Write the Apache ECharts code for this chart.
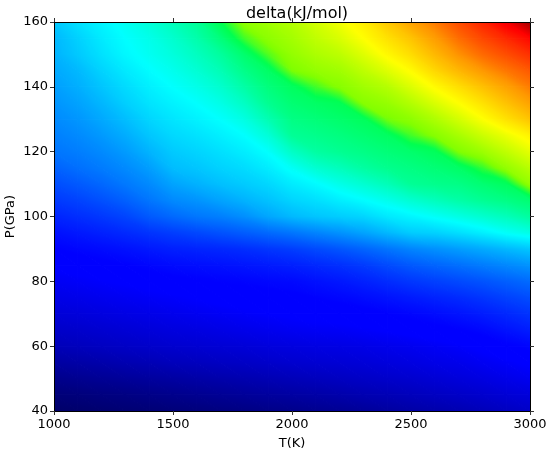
<!DOCTYPE html>
<html>
<head>
<meta charset="utf-8">
<script src="https://cdn.jsdelivr.net/npm/echarts@6/dist/echarts.min.js"></script>
<style>
html, body { margin: 0; padding: 0; background: #fff; }
#main { width: 550px; height: 451px; }
</style>
</head>
<body>
<div id="main"></div>
<script>
// sample grid: temperature columns and pressure rows
var temps = [1000, 1100, 1200, 1300, 1400, 1500, 1600, 1700, 1800, 1900, 2000,
             2100, 2200, 2300, 2400, 2500, 2600, 2700, 2800, 2900, 3000];
var pressures = [40, 45, 50, 55, 60, 65, 70, 75, 80, 85, 90, 95, 100,
                 105, 110, 115, 120, 125, 130, 135, 140, 145, 150, 155, 160];
var xTicks = [1000, 1500, 2000, 2500, 3000];
var yTicks = [40, 60, 80, 100, 120, 140, 160];

// delta, one row per pressure (40 -> 160)
var delta = [
  [1, 1.2, 1.4, 1.6, 1.8, 2, 2.2, 2.5, 2.7, 3, 3.2, 3.5, 3.8, 4.2, 4.6, 5, 5.4, 5.8, 6.3, 6.8, 7.3],
  [2, 2.2, 2.5, 2.7, 3, 3.3, 3.6, 3.9, 4.2, 4.5, 4.8, 5.1, 5.4, 5.8, 6.1, 6.5, 6.9, 7.3, 7.7, 8.2, 8.6],
  [3.3, 3.6, 3.9, 4.2, 4.5, 4.8, 5.1, 5.4, 5.7, 6, 6.3, 6.6, 6.9, 7.2, 7.5, 7.8, 8.2, 8.6, 9, 9.5, 10],
  [4.8, 5.1, 5.4, 5.8, 6.1, 6.5, 6.7, 7, 7.2, 7.5, 7.8, 8, 8.2, 8.4, 8.7, 9, 9.4, 9.7, 10.2, 10.7, 11.3],
  [6.3, 6.6, 6.9, 7.2, 7.5, 7.8, 8, 8.2, 8.4, 8.7, 8.9, 9.1, 9.2, 9.4, 9.7, 10, 10.4, 10.8, 11.4, 12.2, 13],
  [7.4, 7.6, 7.9, 8.2, 8.5, 8.8, 9, 9.3, 9.6, 9.9, 10.2, 10.4, 10.5, 10.8, 11.1, 11.5, 11.9, 12.4, 13.1, 14.2, 15.3],
  [8.4, 8.6, 8.9, 9.2, 9.5, 9.8, 10.1, 10.4, 10.7, 11, 11.3, 11.5, 11.7, 12, 12.5, 13, 13.6, 14.3, 15.2, 16.3, 17.5],
  [9.4, 9.6, 9.9, 10.2, 10.5, 10.8, 11.1, 11.4, 11.6, 11.9, 12.2, 12.6, 13, 13.6, 14.3, 15, 15.8, 16.6, 17.6, 18.8, 20],
  [10.3, 10.6, 10.9, 11.2, 11.6, 12, 12.3, 12.6, 12.8, 13.1, 13.3, 14, 14.7, 15.6, 16.7, 17.8, 18.7, 19.6, 20.6, 21.8, 23],
  [11.3, 11.7, 12, 12.5, 13, 13.5, 13.8, 14.1, 14.5, 15, 15.5, 16.3, 17.1, 18.2, 19.7, 21.2, 22.3, 23.4, 24.6, 25.8, 27],
  [12.5, 13, 13.5, 14.1, 14.8, 15.5, 15.9, 16.3, 16.9, 17.7, 18.5, 19.7, 20.9, 22.3, 23.9, 25.5, 26.7, 27.9, 29.2, 30.6, 32],
  [14, 14.8, 15.6, 16.5, 17.5, 18.5, 19.5, 20.5, 21.6, 22.8, 24, 25.4, 26.8, 28.5, 30.5, 32.5, 33.1, 34.4, 36, 37.9, 39.4],
  [16, 16.9, 17.9, 19.2, 21.2, 22.8, 24.1, 25, 26.5, 28.8, 30.6, 31.8, 32.6, 33.4, 35.3, 36.6, 38, 39.4, 40.9, 42.4, 44.4],
  [18, 19, 20.3, 21.9, 24, 26, 27, 28.5, 30, 31.5, 33.3, 34.4, 35.9, 37.3, 38.9, 40.8, 42.3, 43.8, 45.2, 46.3, 47.7],
  [20, 21.2, 22.6, 24.3, 26, 28.5, 29.9, 31.3, 32.4, 33.6, 35.6, 37.1, 39.1, 40.8, 42.6, 45, 45.7, 46.2, 47.6, 49.1, 55.5],
  [22, 23.4, 24.6, 26, 28, 31, 31.9, 33.1, 34.1, 35.7, 38.2, 40.8, 42.4, 44.2, 45.6, 46.5, 47.4, 48.5, 51.5, 55.5, 58.5],
  [24, 24.8, 26, 27.7, 30.1, 32.3, 33.3, 34.5, 35.8, 37.7, 41.6, 44.2, 45.3, 46.2, 47.2, 48.1, 49.3, 54, 56.2, 59, 62],
  [25, 26, 27.5, 29.4, 31.9, 33.7, 34.7, 36, 37.5, 40.3, 45, 45.8, 46.7, 47.7, 48.8, 52, 54.5, 57, 59.8, 62.5, 65.5],
  [26, 27.2, 29, 31.1, 33.4, 35, 36.2, 37.6, 39.6, 43, 46.3, 47.2, 48.1, 49.2, 53.5, 55, 57.5, 60.5, 63.8, 67.4, 71],
  [27, 28.4, 30.4, 32.8, 34.8, 36.3, 37.6, 39.3, 41.8, 45.4, 47.6, 48.6, 49.6, 54.5, 55.7, 58, 61, 64, 67.4, 71.2, 75],
  [28, 29.6, 31.8, 34, 36, 37.6, 39.1, 41, 43.9, 46.9, 49, 52, 54.5, 56.5, 58.1, 61.2, 64.5, 67.8, 71.3, 74.9, 78.5],
  [29, 30.6, 33.2, 35.4, 37.3, 38.8, 40.6, 42.8, 46, 48.6, 53.8, 55.5, 56.5, 58.8, 61.4, 64.4, 68.7, 72.5, 76, 79, 81.5],
  [30, 32.2, 34.6, 36.8, 38.4, 40, 42, 44.5, 48, 52.5, 55.5, 57.4, 58.7, 61.4, 64.7, 68, 72.3, 76.6, 80, 82.5, 85],
  [30.5, 33, 35.5, 37.5, 39, 41, 43.5, 47, 52, 55, 56.8, 59, 61, 64, 67.5, 71, 75.5, 79.8, 83, 85.7, 88.5],
  [32, 34.5, 36.5, 38.5, 40.3, 42.5, 45, 50, 55, 56.5, 58, 60.5, 63, 66, 70.5, 75, 78.6, 82.5, 86, 90, 97]
];

// jet-like colour map (value, colour)
var cmapStops = [
  [0, '#00005a'], [11, '#0000ff'], [12.5, '#0000ff'], [37.5, '#00ffff'],
  [50, '#00ff50'], [54, '#80ff00'], [64, '#ffff00'], [76, '#ff9900'],
  [89, '#ff0000'], [100, '#800000']
];

function colorAt(v) {
  v = Math.max(0, Math.min(100, v));
  for (var k = 1; k < cmapStops.length; k++) {
    var a = cmapStops[k - 1], b = cmapStops[k];
    if (v <= b[0]) {
      var f = b[0] === a[0] ? 0 : (v - a[0]) / (b[0] - a[0]);
      return echarts.color.lerp(f, [a[1], b[1]]);
    }
  }
  return cmapStops[cmapStops.length - 1][1];
}

var nT = temps.length, nP = pressures.length;

var points = [];
for (var i = 0; i < nP; i++) {
  for (var j = 0; j < nT; j++) {
    points.push([temps[j], pressures[i], delta[i][j]]);
  }
}

// linear shading of one triangle of samples (gouraud style)
function triangle(pts, vals) {
  var e1x = pts[1][0] - pts[0][0], e1y = pts[1][1] - pts[0][1];
  var e2x = pts[2][0] - pts[0][0], e2y = pts[2][1] - pts[0][1];
  var d1 = vals[1] - vals[0], d2 = vals[2] - vals[0];
  var det = e1x * e2y - e1y * e2x;
  var fill;
  if (Math.abs(det) < 1e-9) {
    fill = colorAt(vals[0]);
  } else {
    var ga = (d1 * e2y - d2 * e1y) / det;
    var gb = (e1x * d2 - e2x * d1) / det;
    var g = Math.sqrt(ga * ga + gb * gb);
    if (g < 1e-6) {
      fill = colorAt((vals[0] + vals[1] + vals[2]) / 3);
    } else {
      var ux = ga / g, uy = gb / g;
      var s = pts.map(function (q) { return q[0] * ux + q[1] * uy; });
      var kMin = 0, kMax = 0;
      for (var k = 1; k < 3; k++) {
        if (s[k] < s[kMin]) kMin = k;
        if (s[k] > s[kMax]) kMax = k;
      }
      var span = s[kMax] - s[kMin] + 4;
      var x0 = pts[kMin][0] - 2 * ux, y0 = pts[kMin][1] - 2 * uy;
      var v0 = vals[kMin] - 2 * g;
      var stops = [];
      for (var n = 0; n <= 12; n++) {
        stops.push({ offset: n / 12, color: colorAt(v0 + g * span * n / 12) });
      }
      fill = {
        type: 'linear', global: true,
        x: x0, y: y0, x2: x0 + ux * span, y2: y0 + uy * span,
        colorStops: stops
      };
    }
  }
  return {
    type: 'polygon',
    shape: { points: pts },
    style: { fill: fill, stroke: fill, lineWidth: 1.2, lineJoin: 'round' }
  };
}

// each sample draws the quad above-right of it as two triangles
function renderQuad(params, api) {
  var idx = params.dataIndex;
  var i = Math.floor(idx / nT), j = idx % nT;
  if (i >= nP - 1 || j >= nT - 1) return;
  var A = api.coord([temps[j], pressures[i + 1]]);
  var B = api.coord([temps[j + 1], pressures[i + 1]]);
  var C = api.coord([temps[j + 1], pressures[i]]);
  var D = api.coord([temps[j], pressures[i]]);
  var vA = delta[i + 1][j], vB = delta[i + 1][j + 1];
  var vC = delta[i][j + 1], vD = delta[i][j];
  return {
    type: 'group',
    children: [
      triangle([A, B, C], [vA, vB, vC]),
      triangle([A, C, D], [vA, vC, vD])
    ]
  };
}

var font = 'DejaVu Sans';
var lineStyle = { color: '#000', width: 1 };
var tickStyle = { show: true, inside: false, length: 4, lineStyle: { color: '#333', width: 1 } };
function plain(val) { return String(val); }

var myChart = echarts.init(document.getElementById('main'));
var option = {
  animation: false,
  backgroundColor: '#fff',
  title: {
    text: 'delta(kJ/mol)',
    left: 292, top: 1, textAlign: 'center',
    textStyle: { fontFamily: font, fontSize: 16, fontWeight: 'normal', color: '#000' }
  },
  grid: { left: 54, right: 20, top: 22, bottom: 40, outerBoundsMode: 'none', containLabel: false },
  xAxis: [{
    type: 'value', min: xTicks[0], max: xTicks[xTicks.length - 1], interval: 500,
    position: 'bottom', z: 10,
    name: 'T(K)', nameLocation: 'middle', nameGap: 26, nameMoveOverlap: false,
    nameTextStyle: { fontFamily: font, fontSize: 13, color: '#000' },
    axisLine: { show: true, lineStyle: lineStyle },
    axisTick: tickStyle,
    axisLabel: { fontFamily: font, fontSize: 13, color: '#000', margin: 7, formatter: plain },
    splitLine: { show: false }
  }, {
    type: 'value', min: xTicks[0], max: xTicks[xTicks.length - 1], interval: 500,
    position: 'top', z: 10,
    axisLine: { show: true, lineStyle: lineStyle },
    axisTick: tickStyle,
    axisLabel: { show: false },
    splitLine: { show: false }
  }],
  yAxis: [{
    type: 'value', min: yTicks[0], max: yTicks[yTicks.length - 1], interval: 20,
    position: 'left', z: 10,
    name: 'P(GPa)', nameLocation: 'middle', nameGap: 37, nameRotate: 90, nameMoveOverlap: false,
    nameTextStyle: { fontFamily: font, fontSize: 13, color: '#000' },
    axisLine: { show: true, lineStyle: lineStyle },
    axisTick: tickStyle,
    axisLabel: { fontFamily: font, fontSize: 13, color: '#000', margin: 6, formatter: plain },
    splitLine: { show: false }
  }, {
    type: 'value', min: yTicks[0], max: yTicks[yTicks.length - 1], interval: 20,
    position: 'right', z: 10,
    axisLine: { show: true, lineStyle: lineStyle },
    axisTick: tickStyle,
    axisLabel: { show: false },
    splitLine: { show: false }
  }],
  series: [{
    type: 'custom',
    xAxisIndex: 0, yAxisIndex: 0,
    renderItem: renderQuad,
    data: points,
    clip: true,
    silent: true
  }]
};
myChart.setOption(option);
</script>
</body>
</html>
